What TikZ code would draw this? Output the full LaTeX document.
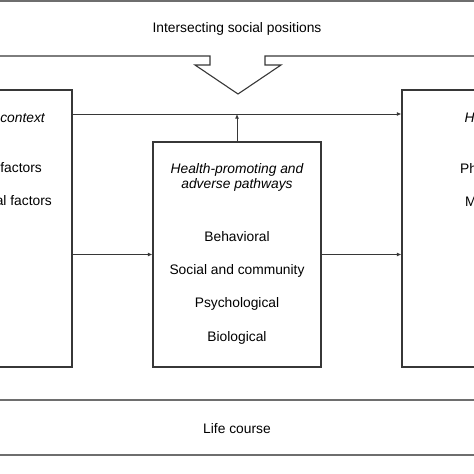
\documentclass[tikz,border=0pt]{standalone}
\usepackage{fontspec}
\setmainfont{Liberation Sans}
\usepackage{xcolor}
\usetikzlibrary{arrows.meta,positioning,calc}
\definecolor{lineGrey}{RGB}{55,55,55}
\definecolor{bandGrey}{RGB}{110,110,110}

\tikzset{
  box/.style={draw=lineGrey, line width=1.1pt, minimum width=168pt, inner sep=0pt},
  arr/.style={draw=lineGrey, line width=1pt, -{Latex[length=4.5pt,width=4pt]}},
  lbl/.style={font=\fontsize{13.8}{16}\selectfont, inner sep=0pt},
}

\begin{document}
\begin{tikzpicture}[x=1pt,y=-1pt]
    \useasboundingbox (0,0) rectangle (474,474);
    \clip (0,0) rectangle (474,474);

    % top band with the notch arrow
    \draw[bandGrey, line width=2.5pt] (-5,1.2) -- (480,1.2);
    \node[lbl] (isp) at (237,29) {Intersecting social positions};
    \draw[lineGrey, line width=1.1pt] (-5,56) -- (210,56) -- (210,65) -- (195,65)
        -- (238,94) -- (281,65) -- (265,65) -- (265,56) -- (480,56);

    % the three boxes
    \node[box, minimum height=277pt] (ctx) at (-12,228.5) {};
    \node[box, minimum height=225pt] (path) at (237,254.5) {};
    \node[box, minimum height=277pt] (out) at (486,228.5) {};

    % left box (cut by the frame)
    \node[lbl, anchor=east] (ctxT) at (45,118) {\itshape context};
    \node[lbl, anchor=east] (ctxA) at (42,168) {factors};
    \node[lbl, anchor=east] (ctxB) at (52,201) {al factors};

    % middle box
    \node[lbl, align=center] (pathT) at (237,177.5) {\itshape Health-promoting and\\[-0.5pt]\itshape adverse pathways};
    \node[lbl] (beh) at (237,237) {Behavioral};
    \node[lbl] (soc) at (237,271) {Social and community};
    \node[lbl] (psy) at (237,304) {Psychological};
    \node[lbl] (bio) at (237,338) {Biological};

    % right box (cut by the frame)
    \node[lbl, anchor=west] (outT) at (464.5,118) {\itshape H};
    \node[lbl, anchor=west] (outA) at (460,168) {Ph};
    \node[lbl, anchor=west] (outB) at (465,202) {M};

    % connectors
    \coordinate (hi) at (237,114);
    \draw[arr] (ctx.east |- hi) -- (out.west |- hi);
    \draw[arr] (path.north) -- (hi);
    \draw[arr] (ctx.east |- path.west) -- (path.west);
    \draw[arr] (path.east) -- (out.west |- path.east);

    % life course band
    \draw[bandGrey, line width=1.3pt] (-5,400) -- (480,400);
    \draw[bandGrey, line width=1.3pt] (-5,455) -- (480,455);
    \node[lbl] (life) at (237,429) {Life course};
\end{tikzpicture}
\end{document}
